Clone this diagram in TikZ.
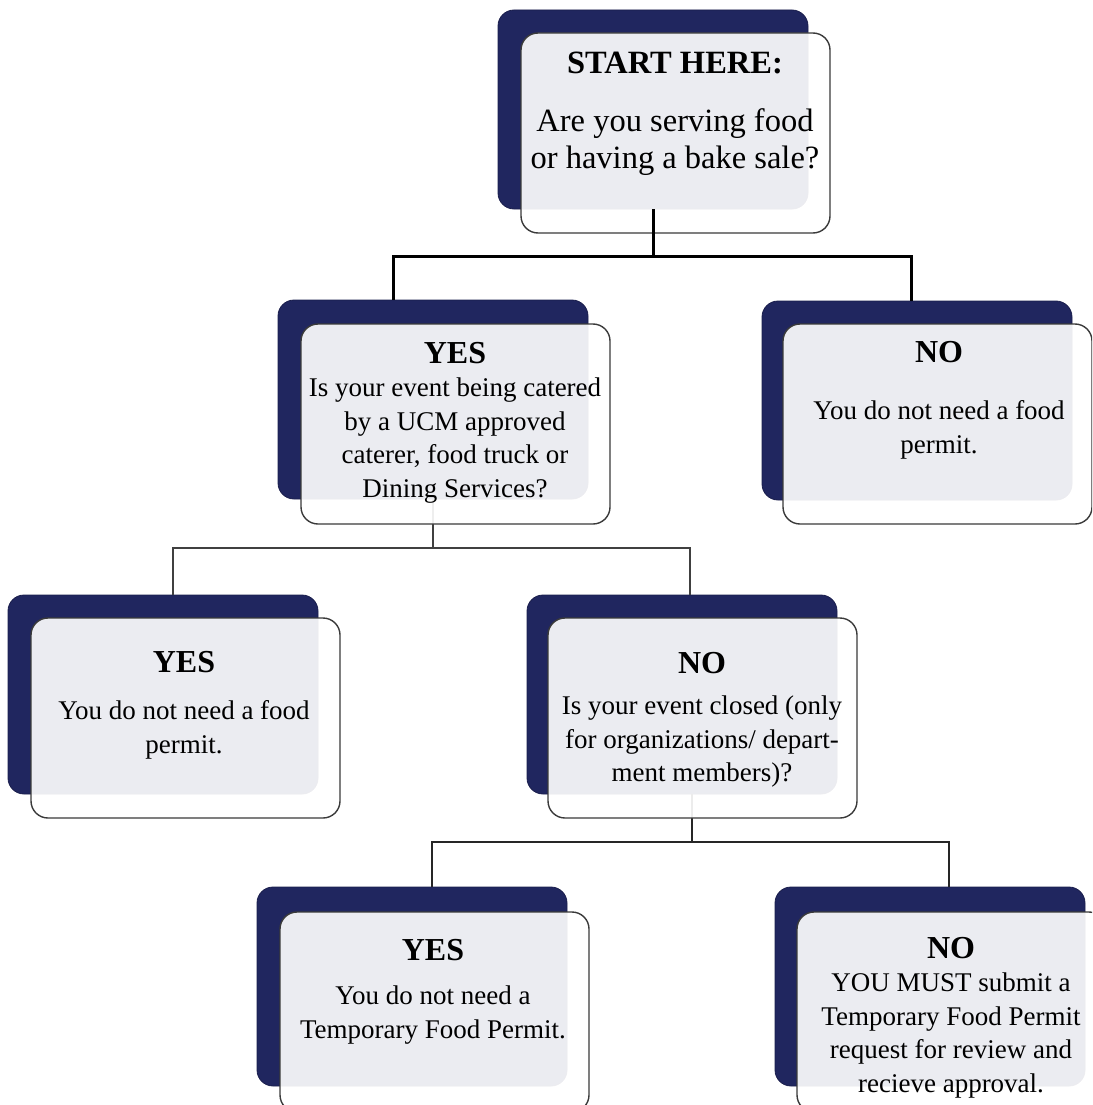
\documentclass[tikz,border=0pt]{standalone}
\usepackage{fontspec}
\setmainfont{Liberation Serif}
\definecolor{navy}{HTML}{20265F}
\definecolor{edge}{HTML}{3A3A3A}
\newcommand{\hd}[1]{{\fontsize{32}{33.5}\selectfont\bfseries #1}}
\begin{document}
\begin{tikzpicture}[x=1pt,y=-1pt,
 backbox/.style={fill=navy, draw=navy!80!black, line width=0.8pt, rounded corners=16pt, minimum width=310pt, minimum height=199pt, anchor=north west, inner sep=0pt, outer sep=0pt},
 frontbox/.style={fill=white, fill opacity=0.915, draw=edge, line width=1.4pt, rounded corners=17pt, minimum width=309pt, minimum height=200pt, anchor=north west, inner sep=0pt, outer sep=0pt},
 txt/.style={align=center, inner sep=0pt, anchor=north, font=\fontsize{27}{33.5}\selectfont, text=black},
 bigtxt/.style={txt, font=\fontsize{32.5}{37}\selectfont},
 linkA/.style={line width=3pt, draw=black},
 linkB/.style={line width=2pt, draw=black!75},
 linkC/.style={line width=1.8pt, draw=black!85}]
\useasboundingbox (0,0) rectangle (1092,1105);
\clip (0,0) rectangle (1092,1105);
% back boxes
\node[backbox] (Sb) at (498,10) {};
\node[backbox] (Y1b) at (278,300) {};
\node[backbox] (N1b) at (762,301) {};
\node[backbox] (Y2b) at (8,595) {};
\node[backbox] (N2b) at (527,595) {};
\node[backbox] (Y3b) at (257,887) {};
\node[backbox] (N3b) at (775,887) {};
% lower connectors (under front boxes)
\coordinate (j1) at (433,548);
\coordinate (j2) at (692,842);
\draw[linkB] (Y1b.south) -- (j1);
\draw[linkB] (j1) -| ([xshift=10pt]Y2b.north);
\draw[linkB] (j1) -| ([xshift=8pt]N2b.north);
\draw[linkC] ([xshift=10pt]N2b.south) -- (j2);
\draw[linkC] (j2) -| ([xshift=20pt]Y3b.north);
\draw[linkC] (j2) -| ([xshift=19pt]N3b.north);
% front boxes
\node[frontbox] (Sf) at (521,33) {};
\node[frontbox] (Y1f) at (301,324) {};
\node[frontbox] (N1f) at (783,324) {};
\node[frontbox] (Y2f) at (31,618) {};
\node[frontbox] (N2f) at (548,618) {};
\node[frontbox] (Y3f) at (280,912) {};
\node[frontbox] (N3f) at (797,912) {};
% top connector
\coordinate (j0) at (653,256);
\draw[linkA] (Sb.south) -- (j0);
\draw[linkA] (j0) -| ([xshift=-40pt]Y1b.north);
\draw[linkA] (j0) -| ([xshift=-6pt]N1b.north);
% texts
\node[bigtxt] (St) at (675,51.5) {\textbf{START HERE:}\\[21pt] Are you serving food\\ or having a bake sale?};
\node[txt] (Y1t) at (455,341.8) {\hd{YES}\\ Is your event being catered\\ by a UCM approved\\ caterer, food truck or\\ Dining Services?};
\node[txt] (N1t) at (939,340.8) {\hd{NO}\\[24pt] You do not need a food\\ permit.};
\node[txt] (Y2t) at (184,650.8) {\hd{YES}\\[14pt] You do not need a food\\ permit.};
\node[txt] (N2t) at (702,651.8) {\hd{NO}\\[8pt] Is your event closed (only\\ for organizations/ depart-\\ ment members)?};
\node[txt] (Y3t) at (433,938.8) {\hd{YES}\\[11pt] You do not need a\\ Temporary Food Permit.};
\node[txt] (N3t) at (951,936.8) {\hd{NO}\\ YOU MUST submit a\\ Temporary Food Permit\\ request for review and\\ recieve approval.};
\end{tikzpicture}
\end{document}
